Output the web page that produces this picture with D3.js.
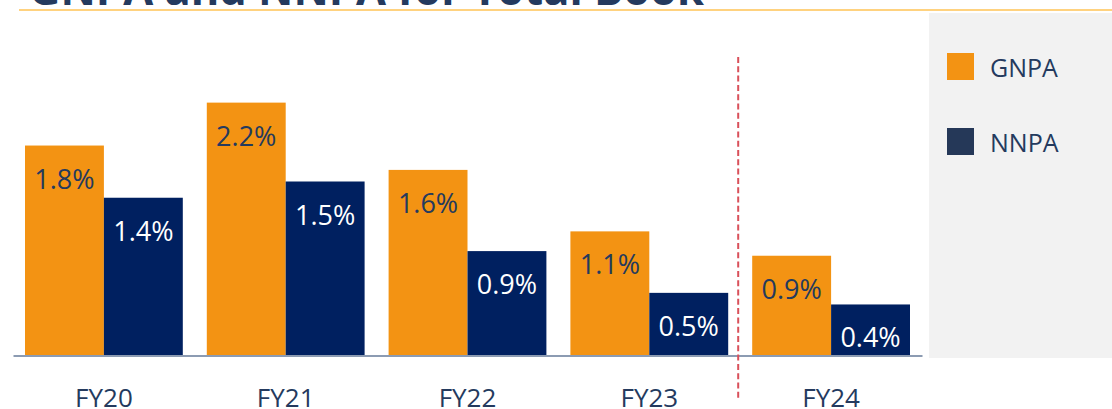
<!DOCTYPE html>
<html>
<head>
<meta charset="utf-8">
<script src="https://cdn.jsdelivr.net/npm/d3@7"></script>
<style>
  html, body { margin: 0; padding: 0; background: #ffffff; }
  svg { display: block; }
  text { font-family: "Open Sans", "DejaVu Sans", sans-serif; }
</style>
</head>
<body>
<svg id="chart" width="1112" height="409"></svg>
<script>
// ---- data ----
const titleText = "GNPA and NNPA for Total Book";
const categories = ["FY20", "FY21", "FY22", "FY23", "FY24"];
const seriesNames = ["GNPA", "NNPA"];
const gnpaValues = [1.81, 2.18, 1.60, 1.07, 0.86];
const nnpaValues = [1.36, 1.50, 0.90, 0.54, 0.44];
const gnpaLabels = ["1.8%", "2.2%", "1.6%", "1.1%", "0.9%"];
const nnpaLabels = ["1.4%", "1.5%", "0.9%", "0.5%", "0.4%"];
const dividerBetween = ["FY23", "FY24"];

// ---- styles ----
const colors = { GNPA: "#F39313", NNPA: "#002060" };
const legendColors = { GNPA: "#F39313", NNPA: "#253858" };
const labelColors = { GNPA: "#243A5E", NNPA: "#FFFFFF" };
const textColor = "#243A5E";

const svg = d3.select("#chart");

// title (mostly cut off at top)
svg.append("text")
  .attr("x", 29).attr("y", 5)
  .attr("font-size", 44).attr("font-weight", 700)
  .attr("fill", textColor)
  .attr("textLength", 675).attr("lengthAdjust", "spacingAndGlyphs")
  .text(titleText);

// orange rule under title
svg.append("line")
  .attr("x1", 19).attr("x2", 1112).attr("y1", 10).attr("y2", 10)
  .attr("stroke", "#FFD27F").attr("stroke-width", 2);

// legend panel
svg.append("rect")
  .attr("x", 929).attr("y", 13).attr("width", 183).attr("height", 345)
  .attr("fill", "#F2F2F2");

// scales
const x0 = d3.scaleBand().domain(categories).range([13, 922]).padding(0);
const x1 = d3.scaleBand().domain(seriesNames).range([12, x0.bandwidth() - 12]).padding(0);
const y = d3.scaleLinear().domain([0, 2.5]).range([355.5, 355.5 - 2.5 * 116]);

const rows = categories.map((c, i) => ({
  cat: c,
  vals: [
    { s: "GNPA", v: gnpaValues[i], label: gnpaLabels[i] },
    { s: "NNPA", v: nnpaValues[i], label: nnpaLabels[i] }
  ]
}));

const groups = svg.append("g").selectAll("g").data(rows).join("g")
  .attr("transform", d => `translate(${x0(d.cat)},0)`);

groups.selectAll("rect").data(d => d.vals).join("rect")
  .attr("x", d => x1(d.s))
  .attr("y", d => y(d.v))
  .attr("width", x1.bandwidth())
  .attr("height", d => y(0) - y(d.v))
  .attr("fill", d => colors[d.s]);

groups.selectAll("text.val").data(d => d.vals).join("text")
  .attr("class", "val")
  .attr("x", d => x1(d.s) + x1.bandwidth() / 2)
  .attr("y", d => y(d.v) + 43)
  .attr("text-anchor", "middle")
  .attr("font-size", 27)
  .attr("fill", d => labelColors[d.s])
  .text(d => d.label);

// x axis
const xAxis = d3.axisBottom(x0).tickSize(0).tickPadding(0);
const axG = svg.append("g").attr("transform", `translate(0,${y(0)})`).call(xAxis);
axG.select(".domain").attr("stroke", "#8C9BB2").attr("stroke-width", 2);
axG.selectAll(".tick text")
  .attr("y", 51).attr("dy", 0)
  .attr("font-size", 26)
  .attr("font-family", "'Open Sans', sans-serif")
  .attr("fill", textColor);

// dashed divider
const divX = (x0(dividerBetween[0]) + x0.bandwidth() + x0(dividerBetween[1])) / 2 - 2;
svg.append("line")
  .attr("x1", divX).attr("x2", divX).attr("y1", 57).attr("y2", 398)
  .attr("stroke", "#D9505A").attr("stroke-width", 2)
  .attr("stroke-dasharray", "6,3.3");

// legend
const leg = svg.append("g").selectAll("g").data(seriesNames).join("g")
  .attr("transform", (d, i) => `translate(947,${53 + i * 75})`);
leg.append("rect").attr("width", 27).attr("height", 27).attr("fill", d => legendColors[d]);
leg.append("text").attr("x", 43).attr("y", 24)
  .attr("font-size", 25).attr("fill", textColor).text(d => d);
</script>
</body>
</html>
